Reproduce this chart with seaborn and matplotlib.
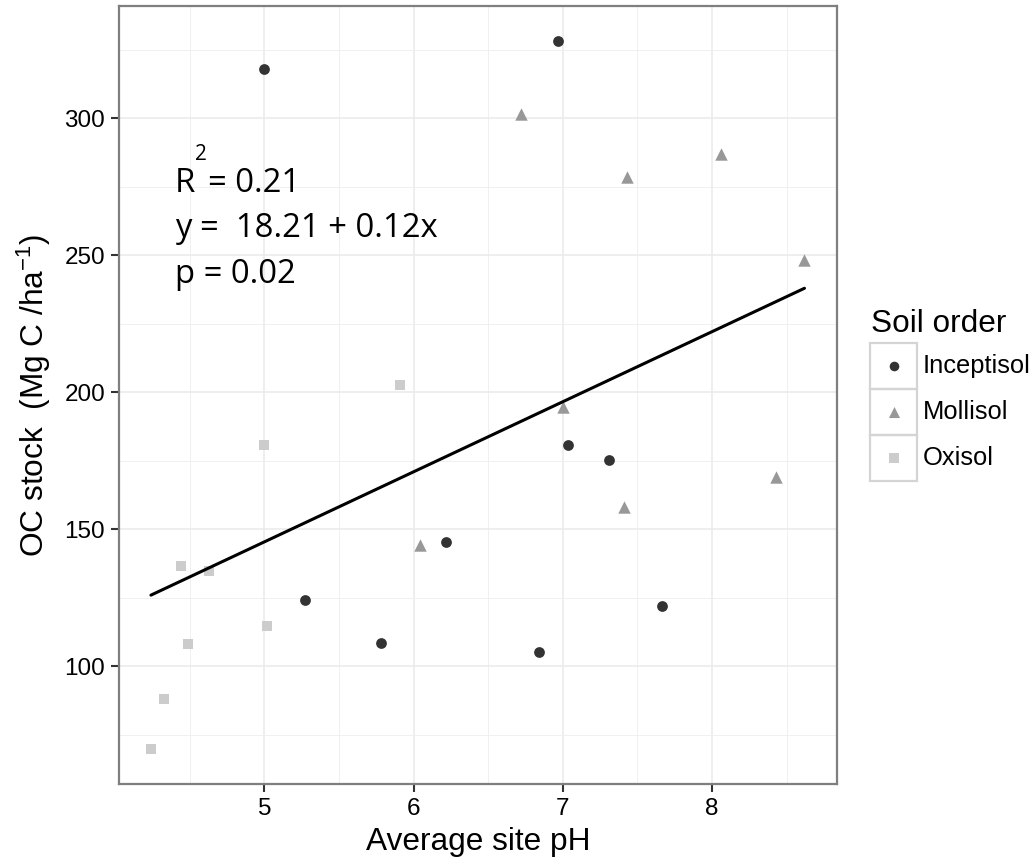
import numpy as np
import pandas as pd
import matplotlib
matplotlib.use("Agg")
import matplotlib.pyplot as plt
from matplotlib.patches import Rectangle
from matplotlib.ticker import MultipleLocator
import seaborn as sns

# ---- data ----
inceptisol_ph = [5.00, 6.97, 5.275, 5.785, 6.22, 7.035, 7.31, 7.665, 6.84]
inceptisol_oc = [317.9, 328.1, 124.3, 108.4, 145.4, 180.8, 175.3, 121.8, 105.3]
mollisol_ph = [6.72, 7.43, 8.06, 8.62, 7.00, 6.04, 7.41, 8.43]
mollisol_oc = [301.6, 278.7, 286.9, 248.3, 194.5, 144.2, 158.1, 169.0]
oxisol_ph = [5.91, 5.00, 4.44, 4.63, 5.02, 4.49, 4.33, 4.24]
oxisol_oc = [202.6, 180.7, 136.7, 134.9, 114.8, 108.0, 88.0, 69.7]

categories = ["Inceptisol", "Mollisol", "Oxisol"]
x_ticks = [5, 6, 7, 8]
y_ticks = [100, 150, 200, 250, 300]
annot_lines = ["y =  18.21 + 0.12x", "p = 0.02"]
r2_text = "= 0.21"

df = pd.DataFrame({
    "ph": inceptisol_ph + mollisol_ph + oxisol_ph,
    "oc": inceptisol_oc + mollisol_oc + oxisol_oc,
    "order": ["Inceptisol"] * len(inceptisol_ph) + ["Mollisol"] * len(mollisol_ph)
             + ["Oxisol"] * len(oxisol_ph),
})

colors = {"Inceptisol": "#333333", "Mollisol": "#989898", "Oxisol": "#cccccc"}
markers = {"Inceptisol": "o", "Mollisol": "^", "Oxisol": "s"}
sizes = {"Inceptisol": 60, "Mollisol": 80, "Oxisol": 55}

sns.set_style("white")
plt.rcParams["font.family"] = ["Liberation Sans", "DejaVu Sans"]
plt.rcParams["text.color"] = "black"
plt.rcParams["axes.labelcolor"] = "black"
plt.rcParams["mathtext.fontset"] = "custom"
plt.rcParams["mathtext.rm"] = "Liberation Sans"
plt.rcParams["mathtext.it"] = "Liberation Sans:italic"

W, H = 1036, 865
fig = plt.figure(figsize=(W / 100, H / 100), dpi=100)
ax = fig.add_axes([119 / W, 1 - 784 / H, (837 - 119) / W, (784 - 6) / H])

for cat in categories:
    sub = df[df["order"] == cat]
    sns.scatterplot(data=sub, x="ph", y="oc", ax=ax, color=colors[cat],
                    marker=markers[cat], s=sizes[cat], linewidth=0, legend=False,
                    zorder=3)

sns.regplot(data=df, x="ph", y="oc", ax=ax, scatter=False, ci=None,
            color="black", line_kws=dict(lw=2.2, zorder=4))

ax.set_xlim(4.026, 8.838)
ax.set_ylim(57.0, 341.0)
ax.set_xticks(x_ticks)
ax.set_yticks(y_ticks)
ax.xaxis.set_minor_locator(MultipleLocator(0.5))
ax.yaxis.set_minor_locator(MultipleLocator(25))
ax.grid(which="major", color="#ebebeb", lw=1.2, zorder=0)
ax.grid(which="minor", color="#f0f0f0", lw=0.7, zorder=0)
ax.set_axisbelow(True)
ax.tick_params(which="major", length=6, width=1.5, color="#333333",
               labelsize=17.5, labelcolor="black", pad=4, direction="out",
               bottom=True, left=True)
ax.tick_params(which="minor", length=0)
for sp in ax.spines.values():
    sp.set_color("#7f7f7f")
    sp.set_linewidth(1.6)

ax.set_xlabel("Average site pH", fontsize=22.8, labelpad=5, color="black")
ax.set_ylabel(r"OC stock  (Mg C /ha$^{-1}$)", fontsize=22.8, labelpad=8, color="black")

# annotation
afont = ["Open Sans", "DejaVu Sans"]
ax.text(4.40, 273.1, "R", fontsize=23.7, family=afont, va="baseline", ha="left",
        color="black")
ax.annotate("2", xy=(4.40, 273.1), xytext=(20, 32), textcoords="offset pixels",
            fontsize=15, family=afont, va="baseline", ha="left", color="black")
ax.annotate(r2_text, xy=(4.40, 273.1), xytext=(33, 0), textcoords="offset pixels",
            fontsize=23.7, family=afont, va="baseline", ha="left", color="black")
ax.text(4.40, 256.7, annot_lines[0], fontsize=23.7, family=afont, va="baseline",
        ha="left", color="black")
ax.text(4.40, 239.9, annot_lines[1], fontsize=23.7, family=afont, va="baseline",
        ha="left", color="black")

# legend
fig.text(871 / W, 1 - 332 / H, "Soil order", fontsize=22.7, va="baseline", ha="left",
         color="black")
lax = fig.add_axes([870 / W, 1 - 481 / H, 47 / W, 138 / H])
lax.set_xlim(0, 1)
lax.set_ylim(0, 3)
lax.axis("off")
for i, cat in enumerate(categories):
    yb = 2 - i
    lax.add_patch(Rectangle((0, yb), 1, 1, fill=False, ec="#d4d4d4", lw=1.6,
                            clip_on=False))
    lax.scatter([0.5], [yb + 0.5], marker=markers[cat], s=sizes[cat] * 0.8,
                color=colors[cat], linewidths=0, clip_on=False)
    lax.text(1.13, yb + 0.5, cat, fontsize=18.4, va="center", ha="left",
             clip_on=False, color="black")

fig.savefig("out.png", dpi=100)
